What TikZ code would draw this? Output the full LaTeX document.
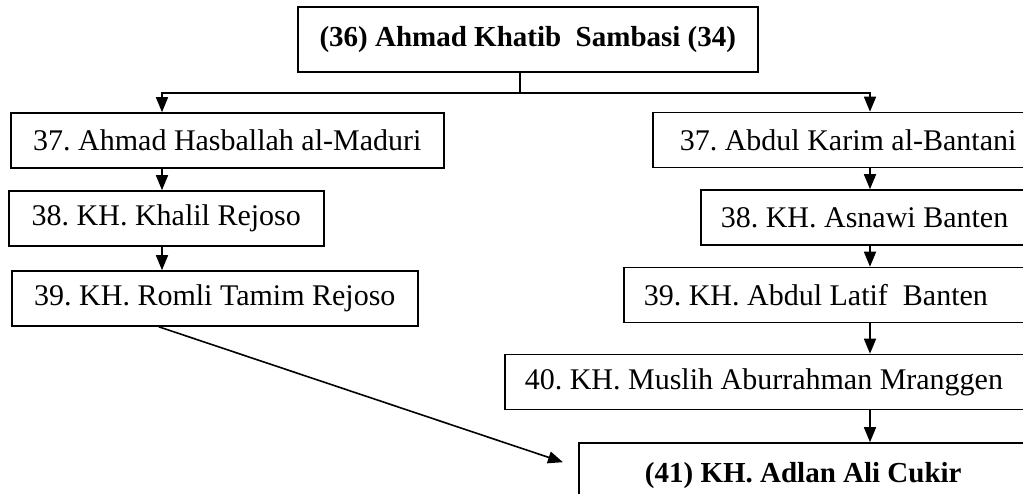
\documentclass[tikz,border=0pt]{standalone}
\usepackage{fontspec}
\setmainfont{Liberation Serif}
\usetikzlibrary{arrows.meta}
\begin{document}
\begin{tikzpicture}[
    x=1pt, y=-1pt,
    box/.style={draw, rectangle, line width=1.6pt, minimum height=55pt, inner ysep=0pt, anchor=west, font=\fontsize{30}{36}\selectfont\frenchspacing},
    rbox/.style={box, text width=520pt, align=justify, inner xsep=20pt},
    title/.style={box, minimum height=65pt, font=\fontsize{29}{35}\selectfont\bfseries\frenchspacing},
    arrow/.style={-{Triangle[length=15pt,width=12pt]}, line width=1.6pt}
]
\path[use as bounding box, clip] (0,0) rectangle (1023,494);

% Title
\node[title, minimum width=460pt] (top) at (297,39.5) {(36) Ahmad Khatib\ \ Sambasi (34)};

% Left column
\node[box, minimum width=433pt] (a37) at (10,140.5) {37. Ahmad Hasballah al-Maduri};
\node[box, minimum width=315pt] (a38) at (8,218.5) {38. KH. Khalil Rejoso};
\node[box, minimum width=406pt] (a39) at (11,298.5) {39. KH. Romli Tamim Rejoso};

% Right column
\node[rbox, inner xsep=27pt] (b37) at (652,140) {37. Abdul Karim al-Bantani};
\node[rbox] (b38) at (700,217.5) {38. KH. Asnawi Banten};
\node[rbox] (b39) at (623,295) {39. KH. Abdul Latif\ \ Banten};
\node[rbox] (b40) at (504,382) {40. KH. Muslih Aburrahman Mranggen};
\node[title, minimum width=449pt] (b41) at (578,475.5) {(41) KH. Adlan Ali Cukir};

% Lines
\coordinate (lx) at (162,0);
\coordinate (rx) at (870,0);
\coordinate (split) at (520,93);
\draw[line width=1.6pt] (top.south -| split) -- (split);
\draw[arrow] (split) -| (a37.north -| lx);
\draw[arrow] (split) -| (b37.north -| rx);
\draw[arrow] (a37.south -| lx) -- (a38.north -| lx);
\draw[arrow] (a38.south -| lx) -- (a39.north -| lx);
\draw[arrow] (b37.south -| rx) -- (b38.north -| rx);
\draw[arrow] (b38.south -| rx) -- (b39.north -| rx);
\draw[arrow] (b39.south -| rx) -- (b40.north -| rx);
\draw[arrow] (b40.south -| rx) -- (b41.north -| rx);
\draw[arrow] ([xshift=-56pt]a39.south) -- ([xshift=-15pt,yshift=-20pt]b41.north west);

\end{tikzpicture}
\end{document}
